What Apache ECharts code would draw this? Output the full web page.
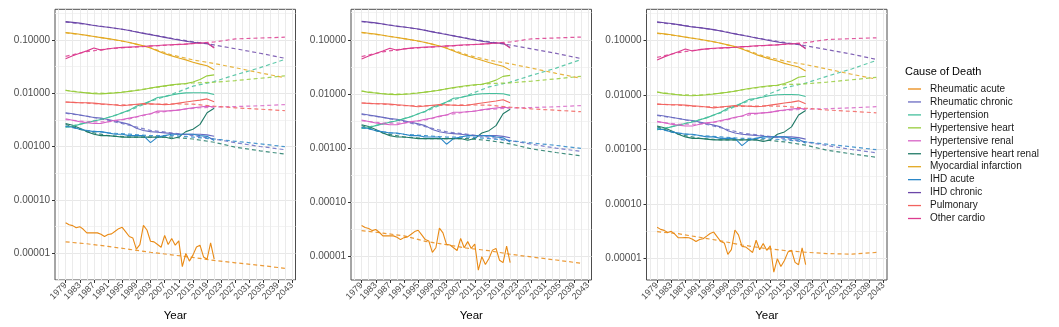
<!DOCTYPE html>
<html>
<head>
<meta charset="utf-8">
<script src="https://cdn.jsdelivr.net/npm/echarts@6/dist/echarts.min.js"></script>
<style>
  html, body { margin: 0; padding: 0; background: #fff; }
  #chart { width: 1059px; height: 327px; }
</style>
</head>
<body>
<div id="chart"></div>
<script>
// causes of death, in legend order
const causes = ["Rheumatic acute", "Rheumatic chronic", "Hypertension", "Hypertensive heart",
  "Hypertensive renal", "Hypertensive heart renal", "Myocardial infarction", "IHD acute",
  "IHD chronic", "Pulmonary", "Other cardio"];
const colors = ["#E98A15", "#6A6BC2", "#45BF9C", "#98CC3C", "#D763C6", "#217A67",
  "#E3A821", "#2B87C8", "#6B46A8", "#F2635F", "#DC3C8F"];

// x axis
const axisYears = [1976, 1977, 1978, 1979, 1980, 1981, 1982, 1983, 1984, 1985, 1986, 1987, 1988,
  1989, 1990, 1991, 1992, 1993, 1994, 1995, 1996, 1997, 1998, 1999, 2000, 2001, 2002, 2003, 2004,
  2005, 2006, 2007, 2008, 2009, 2010, 2011, 2012, 2013, 2014, 2015, 2016, 2017, 2018, 2019, 2020,
  2021, 2022, 2023, 2024, 2025, 2026, 2027, 2028, 2029, 2030, 2031, 2032, 2033, 2034, 2035, 2036,
  2037, 2038, 2039, 2040, 2041, 2042, 2043, 2044];
const tickYears = [1979, 1983, 1987, 1991, 1995, 1999, 2003, 2007, 2011, 2015, 2019, 2023, 2027,
  2031, 2035, 2039, 2043];

// y axis (log)
const yTicks = [0.00001, 0.0001, 0.001, 0.01, 0.1];
const yMinorGrid = [3.1623e-6, 3.1623e-5, 3.1623e-4, 3.1623e-3, 3.1623e-2, 0.31623];
const yMin = [3.14e-6, 3.68e-6, 4.03e-6];
const yMax = [0.373, 0.365, 0.373];

// observed rates
const acuteYears = [1979, 1980, 1981, 1982, 1983, 1984, 1985, 1986, 1987, 1988, 1989, 1990, 1991,
  1992, 1993, 1994, 1995, 1996, 1997, 1998, 1999, 2000, 2001, 2002, 2003, 2004, 2005, 2006, 2007,
  2008, 2009, 2010, 2011, 2012, 2013, 2014, 2015, 2016, 2017, 2018, 2019, 2020, 2021];
const rheumaticAcute = [3.73e-5, 3.42e-5, 3.28e-5, 3.0e-5, 3.14e-5, 2.8e-5, 2.4e-5, 2.4e-5, 2.42e-5,
  2.4e-5, 2.26e-5, 2.05e-5, 2.23e-5, 2.3e-5, 2.57e-5, 2.88e-5, 3.05e-5, 2.5e-5, 2.05e-5, 1.93e-5,
  1.19e-5, 1.45e-5, 3.33e-5, 2.72e-5, 1.67e-5, 1.63e-5, 1.45e-5, 1.29e-5, 2.16e-5, 1.45e-5, 1.88e-5,
  1.41e-5, 1.7e-5, 5.6e-6, 9.9e-6, 7.1e-6, 9.2e-6, 1.31e-5, 1.41e-5, 8.5e-6, 7.7e-6, 1.56e-5, 7.7e-6];

const obsYears = [1979, 1981, 1983, 1985, 1987, 1989, 1991, 1993, 1995, 1997, 1999, 2001, 2003,
  2005, 2007, 2009, 2011, 2013, 2015, 2017, 2019, 2021];
const rheumaticChronic = [0.0043, 0.0041, 0.0039, 0.0037, 0.0035, 0.0034, 0.0032, 0.0030, 0.0028,
  0.0026, 0.0022, 0.0020, 0.0019, 0.00185, 0.0018, 0.00175, 0.0017, 0.0017, 0.0017, 0.0017, 0.00165, 0.00155];
const hypertension = [0.0023, 0.0024, 0.0026, 0.0028, 0.0030, 0.0032, 0.0035, 0.0038, 0.0043,
  0.0048, 0.0057, 0.0063, 0.0071, 0.0083, 0.0086, 0.0092, 0.0098, 0.0101, 0.0102, 0.0102, 0.0101, 0.0094];
const hypertensiveHeart = [0.0113, 0.0107, 0.0104, 0.0101, 0.0098, 0.0097, 0.0099, 0.0101, 0.0104,
  0.0108, 0.0112, 0.0117, 0.0125, 0.0131, 0.0137, 0.0143, 0.0148, 0.0151, 0.0162, 0.0180, 0.0211, 0.0220];
const hypertensiveRenal = [0.0033, 0.0031, 0.0029, 0.0028, 0.0027, 0.0027, 0.0029, 0.0031, 0.0032,
  0.0034, 0.0036, 0.0039, 0.0041, 0.0046, 0.0046, 0.0047, 0.0048, 0.0051, 0.0053, 0.0055, 0.0057, 0.0055];
const hypertensiveHeartRenal = [0.0027, 0.0025, 0.0022, 0.0019, 0.0017, 0.0016, 0.0016, 0.00155,
  0.0015, 0.0015, 0.0015, 0.0015, 0.0015, 0.0015, 0.0015, 0.0014, 0.0015, 0.0019, 0.0021, 0.0026, 0.0043, 0.0052];
const myocardialInfarction = [0.137, 0.132, 0.127, 0.121, 0.115, 0.110, 0.105, 0.100, 0.0946,
  0.089, 0.083, 0.077, 0.070, 0.062, 0.055, 0.050, 0.0455, 0.042, 0.038, 0.035, 0.0325, 0.0275];
const ihdAcute = [0.0024, 0.0023, 0.0021, 0.0020, 0.0019, 0.0019, 0.0018, 0.0017, 0.0017, 0.0016,
  0.0016, 0.0016, 0.00118, 0.0015, 0.0016, 0.0017, 0.0017, 0.0017, 0.0017, 0.0016, 0.00155, 0.0013];
const ihdChronic = [0.219, 0.212, 0.205, 0.195, 0.185, 0.177, 0.172, 0.165, 0.158, 0.149, 0.140,
  0.132, 0.125, 0.118, 0.111, 0.105, 0.099, 0.094, 0.090, 0.087, 0.086, 0.072];
const pulmonary = [0.0068, 0.0067, 0.0066, 0.0066, 0.0065, 0.0063, 0.0062, 0.0060, 0.0058, 0.0060,
  0.0062, 0.0064, 0.0063, 0.0062, 0.0061, 0.0062, 0.0065, 0.0068, 0.0071, 0.0074, 0.0078, 0.0069];
const otherCardio = [0.044, 0.050, 0.056, 0.062, 0.070, 0.064, 0.068, 0.070, 0.072, 0.073, 0.074,
  0.075, 0.077, 0.078, 0.080, 0.081, 0.082, 0.083, 0.085, 0.087, 0.088, 0.070];

// fitted + projected rates (dashed)
const fitYears = [1979, 1985, 1991, 1997, 2003, 2009, 2015, 2021, 2027, 2034, 2041];
const fitAcutePanel1 = [1.63e-5, 1.5e-5, 1.34e-5, 1.18e-5, 1.04e-5, 9.3e-6, 8.3e-6, 7.3e-6, 6.6e-6, 5.9e-6, 5.2e-6];
const fitAcutePanel2 = [3.0e-5, 2.7e-5, 2.4e-5, 1.9e-5, 1.65e-5, 1.42e-5, 1.28e-5, 1.1e-5, 9.8e-6, 8.6e-6, 7.5e-6];
const fitAcutePanel3 = [3.1e-5, 2.85e-5, 2.45e-5, 2.1e-5, 1.77e-5, 1.55e-5, 1.4e-5, 1.3e-5, 1.23e-5, 1.2e-5, 1.29e-5];
const fitRheumaticChronic = [0.0042, 0.0037, 0.0031, 0.0025, 0.0020, 0.0018, 0.0016, 0.00138, 0.00118, 0.0010, 0.00087];
const fitHypertension = [0.0023, 0.0028, 0.0035, 0.0047, 0.0070, 0.0095, 0.0135, 0.0165, 0.022, 0.030, 0.043];
const fitHypertensiveHeart = [0.0113, 0.0101, 0.0099, 0.0108, 0.0124, 0.0141, 0.0155, 0.0160, 0.0172, 0.0190, 0.0211];
const fitHypertensiveRenal = [0.0032, 0.0029, 0.0029, 0.0033, 0.0041, 0.0047, 0.0052, 0.0055, 0.0056, 0.0058, 0.0061];
const fitHypertensiveHeartRenal = [0.0026, 0.0019, 0.0016, 0.0015, 0.0015, 0.0015, 0.00138, 0.0012, 0.00097, 0.00083, 0.00072];
const fitMyocardialInfarction = [0.135, 0.121, 0.105, 0.089, 0.071, 0.052, 0.042, 0.036, 0.030, 0.024, 0.0195];
const fitIhdAcute = [0.0024, 0.0020, 0.0018, 0.0017, 0.0016, 0.0016, 0.0015, 0.00138, 0.00125, 0.00112, 0.00099];
const fitIhdChronic = [0.215, 0.195, 0.172, 0.150, 0.126, 0.106, 0.092, 0.080, 0.068, 0.056, 0.045];
const fitPulmonary = [0.0068, 0.0065, 0.0061, 0.0060, 0.0062, 0.0063, 0.0062, 0.0057, 0.0053, 0.0050, 0.0047];
const fitOtherCardio = [0.049, 0.060, 0.068, 0.072, 0.076, 0.080, 0.085, 0.091, 0.104, 0.108, 0.112];

const observed = [rheumaticAcute, rheumaticChronic, hypertension, hypertensiveHeart, hypertensiveRenal,
  hypertensiveHeartRenal, myocardialInfarction, ihdAcute, ihdChronic, pulmonary, otherCardio];
const fittedShared = [null, fitRheumaticChronic, fitHypertension, fitHypertensiveHeart, fitHypertensiveRenal,
  fitHypertensiveHeartRenal, fitMyocardialInfarction, fitIhdAcute, fitIhdChronic, fitPulmonary, fitOtherCardio];
const fitAcute = [fitAcutePanel1, fitAcutePanel2, fitAcutePanel3];

const gridLeft = [55, 351, 646.5];
const font = "Liberation Sans";

function pairs(years, vals) {
  return years.map((y, i) => [String(y), vals[i]]);
}

const chart = echarts.init(document.getElementById("chart"));

let grids = [], xAxes = [], yAxes = [], series = [];
for (let p = 0; p < 3; p++) {
  grids.push({
    left: gridLeft[p], top: 9.3, width: 240.5, height: 272.5,
    show: true, borderColor: "#4d4d4d", borderWidth: 1, backgroundColor: "#fff"
  });
  xAxes.push({
    type: "category", gridIndex: p, data: axisYears.map(String), boundaryGap: false,
    name: "Year", nameLocation: "middle", nameGap: 30,
    nameTextStyle: { fontFamily: font, fontSize: 11.5, color: "#000" },
    axisLine: { show: false },
    axisTick: { show: true, length: 3, lineStyle: { color: "#333" },
      interval: (i, v) => tickYears.indexOf(Number(v)) >= 0 },
    axisLabel: { rotate: 45, fontFamily: font, fontSize: 9, color: "#4d4d4d", margin: 4,
      interval: (i, v) => tickYears.indexOf(Number(v)) >= 0 },
    splitLine: { show: true, lineStyle: { color: "#ebebeb", width: 1 },
      interval: (i, v) => (Number(v) - 1977) % 2 === 0 }
  });
  // main y axis: decade ticks, labels and major grid
  yAxes.push({
    type: "log", logBase: 10, gridIndex: p, min: yMin[p], max: yMax[p],
    axisLine: { show: false },
    axisTick: { show: true, length: 3, lineStyle: { color: "#333" }, customValues: yTicks },
    axisLabel: { customValues: yTicks, fontFamily: font, fontSize: 10, color: "#4d4d4d", margin: 5,
      formatter: v => v.toFixed(5) },
    splitLine: { show: true, lineStyle: { color: "#e8e8e8", width: 1 } }
  });
  // helper y axis: half-decade minor grid only
  yAxes.push({
    type: "log", logBase: 10, gridIndex: p, min: yMin[p], max: yMax[p], position: "left",
    axisLine: { show: false },
    axisTick: { show: false, customValues: yMinorGrid },
    axisLabel: { show: false, customValues: yMinorGrid },
    splitLine: { show: true, lineStyle: { color: "#f0f0f0", width: 0.8 } }
  });
  causes.forEach((c, i) => {
    const yrs = i === 0 ? acuteYears : obsYears;
    series.push({
      type: "line", name: c, xAxisIndex: p, yAxisIndex: 2 * p, data: pairs(yrs, observed[i]),
      symbol: "none", silent: true, z: 2,
      lineStyle: { color: colors[i], width: 1.1 }, itemStyle: { color: colors[i] }
    });
  });
  causes.forEach((c, i) => {
    const fit = i === 0 ? fitAcute[p] : fittedShared[i];
    series.push({
      type: "line", name: c, xAxisIndex: p, yAxisIndex: 2 * p, data: pairs(fitYears, fit),
      symbol: "none", silent: true, z: 3,
      lineStyle: { color: colors[i], width: 1.2, type: [4, 3], opacity: 0.85 },
      itemStyle: { color: colors[i] }
    });
  });
}

chart.setOption({
  animation: false,
  backgroundColor: "#fff",
  title: { text: "Cause of Death", left: 905, top: 66.5, padding: 0,
    textStyle: { fontFamily: font, fontSize: 11, fontWeight: "normal", color: "#000" } },
  legend: {
    data: causes, orient: "vertical", left: 908, top: 84, padding: 0,
    icon: "rect", itemWidth: 13, itemHeight: 1.3, itemGap: 2.95,
    textStyle: { fontFamily: font, fontSize: 10, color: "#1a1a1a", lineHeight: 10, padding: [0, 0, 0, 4] }
  },
  grid: grids,
  xAxis: xAxes,
  yAxis: yAxes,
  series: series
});
</script>
</body>
</html>
